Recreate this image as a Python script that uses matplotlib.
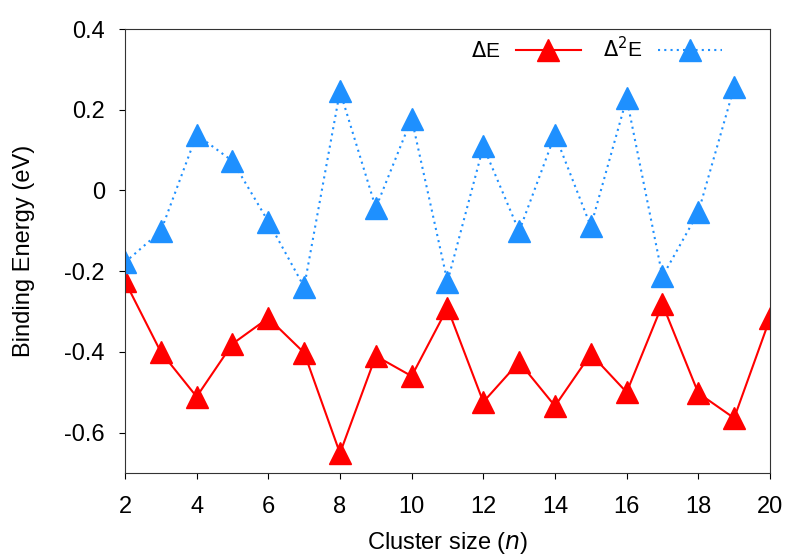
import numpy as np
import matplotlib.pyplot as plt

plt.rcParams['font.family'] = ['Liberation Sans', 'DejaVu Sans']

n = np.arange(2, 21)
dE = [-0.225, -0.400, -0.511, -0.380, -0.316, -0.402, -0.651, -0.410, -0.460,
      -0.291, -0.524, -0.425, -0.534, -0.405, -0.500, -0.282, -0.502, -0.564, -0.317]
n2 = np.arange(2, 20)
d2E = [-0.178, -0.101, 0.138, 0.073, -0.077, -0.239, 0.246, -0.043, 0.178,
       -0.226, 0.109, -0.101, 0.138, -0.089, 0.228, -0.213, -0.054, 0.256]

fig = plt.figure(figsize=(7.97, 5.58), dpi=100)
ax = fig.add_axes([0.1568, 0.1523, 0.8093, 0.7957])

ax.plot(n, dE, color='#ff0000', lw=1.5, marker='^', ms=16, label=r'$\Delta$E')
ax.plot(n2, d2E, color='#1e90ff', lw=1.5, ls=(0, (1, 2)), marker='^', ms=16,
        label=r'$\Delta^2$E')

ax.set_xlim(2, 20)
ax.set_ylim(-0.7, 0.4)
ax.set_xticks(range(2, 21, 2))
ax.set_yticks([-0.6, -0.4, -0.2, 0, 0.2, 0.4])
ax.set_yticklabels(['-0.6', '-0.4', '-0.2', '0', '0.2', '0.4'])
ax.tick_params(labelsize=17, direction='out', length=4.5, top=False, right=False)
ax.tick_params(axis='x', pad=12)
ax.tick_params(axis='y', pad=10)
ax.set_xlabel('Cluster size ($n$)', fontsize=17, labelpad=9)
ax.set_ylabel('Binding Energy (eV)', fontsize=17, labelpad=21)
for s in ax.spines.values():
    s.set_color('#333333')

ax.legend(loc='upper right', ncol=2, frameon=False, markerfirst=False, fontsize=15,
          handlelength=3.1, columnspacing=1.05, handletextpad=0.75,
          borderpad=0, borderaxespad=0, bbox_to_anchor=(0.926, 0.985))

fig.savefig('out.png', dpi=100)
